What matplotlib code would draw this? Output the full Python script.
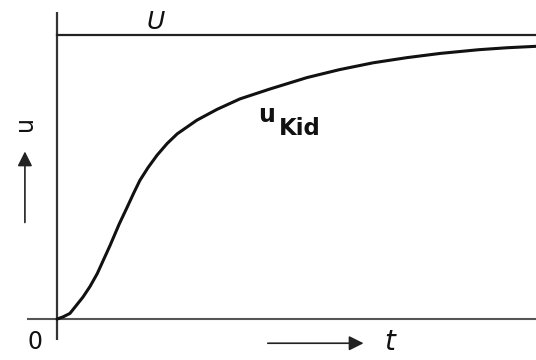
import numpy as np
import matplotlib
matplotlib.use('Agg')
import matplotlib.pyplot as plt

# step response of the controller, u rising towards U
t = [0, 0.13, 0.27, 0.54, 0.69, 0.84, 1.11, 1.30, 1.46, 1.60, 1.73, 1.90, 2.09, 2.30, 2.51, 2.92,
     3.34, 3.82, 4.45, 5.22, 5.9, 6.6, 7.3, 8.0, 8.8, 9.4, 10]
u_kid = [0, 0.008, 0.02, 0.077, 0.115, 0.16, 0.26, 0.335, 0.392, 0.443, 0.488, 0.533, 0.577, 0.618, 0.652, 0.70,
         0.738, 0.775, 0.81, 0.85, 0.878, 0.902, 0.92, 0.935, 0.948, 0.955, 0.96]
U = 1.0
t_max = 10

fig = plt.figure(figsize=(5.36, 3.60), dpi=100)
ax = fig.add_axes([0, 0, 1, 1])
ax.set_xlim(-1.19, 10)
ax.set_ylim(-0.144, 1.123)
ax.axis('off')

# axes
ax.plot([0, 0], [-0.074, 1.081], color='#333333', linewidth=1.6, solid_capstyle='butt')
ax.plot([-0.63, t_max], [0, 0], color='#555555', linewidth=1.5, solid_capstyle='butt')

# setpoint U and response
ax.plot([0, t_max], [U, U], color='#222222', linewidth=1.6)
ax.plot(t, u_kid, color='#111111', linewidth=2.2, solid_capstyle='round', solid_joinstyle='round')

ax.text(2.05, 1.045, 'U', fontsize=18, style='italic', ha='center', va='center', color='#111111')
ax.text(-0.46, -0.08, '0', fontsize=17, ha='center', va='center', color='#111111')
ax.text(4.37, 0.72, 'u', fontsize=17, fontweight='bold', ha='center', va='center', color='#111111')
ax.text(4.64, 0.672, 'Kid', fontsize=16.5, fontweight='bold', ha='left', va='center', color='#111111')

# axis labels with arrows
ax.annotate('', xy=(6.4, -0.085), xytext=(4.4, -0.085),
            arrowprops=dict(arrowstyle='-|>', color='#222222', lw=1.2, mutation_scale=22,
                            shrinkA=0, shrinkB=0))
ax.text(6.95, -0.08, 't', fontsize=20, style='italic', ha='center', va='center', color='#111111')
ax.annotate('', xy=(-0.67, 0.59), xytext=(-0.67, 0.34),
            arrowprops=dict(arrowstyle='-|>', color='#222222', lw=1.2, mutation_scale=22,
                            shrinkA=0, shrinkB=0))
ax.text(-0.67, 0.69, 'u', fontsize=17, rotation=90, ha='center', va='center', color='#111111')

plt.savefig('out.png', dpi=100)
plt.close()
